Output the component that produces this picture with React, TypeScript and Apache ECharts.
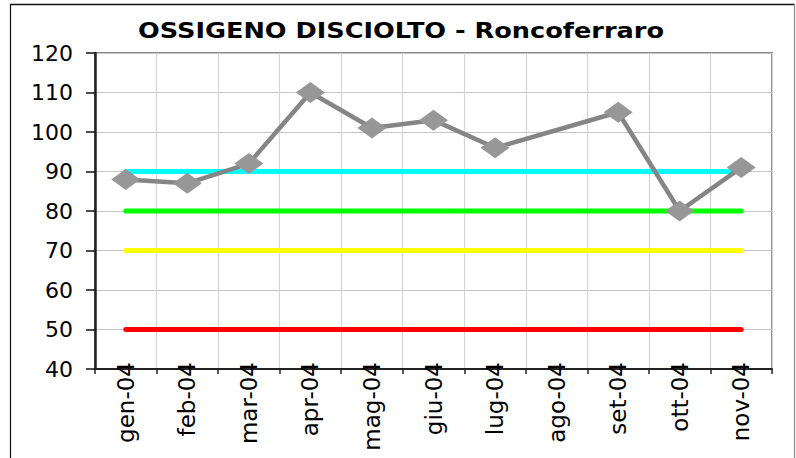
import React, { useEffect, useRef } from "react";
import * as echarts from "echarts";

const categories = ["gen-04", "feb-04", "mar-04", "apr-04", "mag-04", "giu-04", "lug-04", "ago-04", "set-04", "ott-04", "nov-04"];
const ossigeno = [88, 87, 92, 110, 101, 103, 96, null, 105, 80, 91];
const soglia90 = [90, 90, 90, 90, 90, 90, 90, 90, 90, 90, 90];
const soglia80 = [80, 80, 80, 80, 80, 80, 80, 80, 80, 80, 80];
const soglia70 = [70, 70, 70, 70, 70, 70, 70, 70, 70, 70, 70];
const soglia50 = [50, 50, 50, 50, 50, 50, 50, 50, 50, 50, 50];
const yMin = 40;
const yMax = 120;
const yStep = 10;
const titleText = "OSSIGENO DISCIOLTO - Roncoferraro";

const FONT = "DejaVu Sans";

function refLine(name: string, data: number[], color: string) {
  return {
    name,
    type: "line",
    data,
    symbol: "none",
    silent: true,
    lineStyle: { color, width: 5, cap: "round" },
    z: 2,
  };
}

export default function App() {
  const ref = useRef<HTMLDivElement>(null);
  useEffect(() => {
    if (!ref.current) return;
    const chart = echarts.init(ref.current, null, { renderer: "svg" });
    chart.setOption({
      animation: false,
      backgroundColor: "#ffffff",
      graphic: [
        { type: "line", shape: { x1: 10, y1: 4.5, x2: 795, y2: 4.5 }, style: { stroke: "#111", lineWidth: 1.5 } },
        { type: "line", shape: { x1: 10.5, y1: 4, x2: 10.5, y2: 460 }, style: { stroke: "#111", lineWidth: 1.2 } },
        { type: "line", shape: { x1: 794.5, y1: 4, x2: 794.5, y2: 460 }, style: { stroke: "#888", lineWidth: 1.2 } },
        {
          type: "text",
          x: 401,
          y: 20,
          scaleX: 1.22,
          style: {
            text: titleText,
            fontFamily: FONT,
            fontWeight: "bold",
            fontSize: 21,
            fill: "#000",
            textAlign: "center",
            textVerticalAlign: "top",
          },
        },
      ],
      grid: {
        left: 95,
        right: 24,
        top: 53,
        bottom: 89,
        show: true,
        borderColor: "#8a8a8a",
        borderWidth: 2,
        containLabel: false,
      },
      xAxis: {
        type: "category",
        data: categories,
        boundaryGap: true,
        axisLine: { show: true, lineStyle: { color: "#222", width: 2 } },
        axisTick: { show: true, interval: 0, length: 5, lineStyle: { color: "#222", width: 1.5 } },
        splitLine: { show: true, interval: 0, lineStyle: { color: "#d4d4d4", width: 1.2 } },
        axisLabel: {
          interval: 0,
          rotate: 90,
          margin: -7,
          fontFamily: FONT,
          fontSize: 23,
          color: "#000",
        },
      },
      yAxis: {
        type: "value",
        min: yMin,
        max: yMax,
        interval: yStep,
        axisLine: { show: true, lineStyle: { color: "#222", width: 2.5 } },
        axisTick: { show: true, length: 9, lineStyle: { color: "#111", width: 1.5 } },
        splitLine: { show: true, lineStyle: { color: "#c4c4c4", width: 1.2 } },
        axisLabel: {
          margin: 22,
          fontFamily: FONT,
          fontSize: 22,
          color: "#000",
        },
      },
      series: [
        refLine("90", soglia90, "#00ffff"),
        refLine("80", soglia80, "#00ff00"),
        refLine("70", soglia70, "#ffff00"),
        refLine("50", soglia50, "#ff0000"),
        {
          name: "Ossigeno disciolto",
          type: "line",
          data: ossigeno,
          connectNulls: true,
          symbol: "diamond",
          symbolSize: [29, 21],
          itemStyle: { color: "#979797" },
          lineStyle: { color: "#858585", width: 4.5 },
          z: 5,
        },
      ],
    });
    return () => chart.dispose();
  }, []);
  return (
    <div
      ref={ref}
      style={{ position: "absolute", left: 0, top: 0, width: 796, height: 458 }}
    />
  );
}
